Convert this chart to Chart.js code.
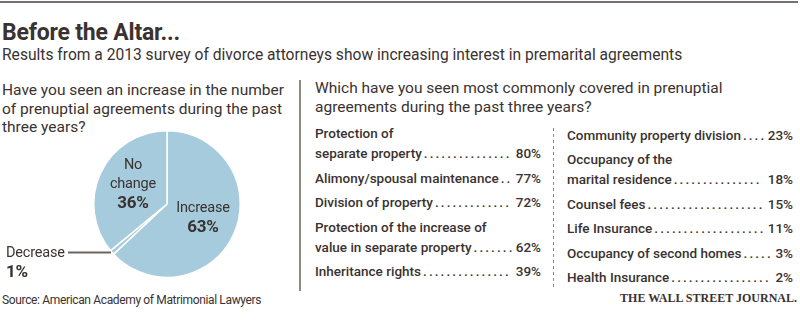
<!DOCTYPE html>
<html>
<head>
<meta charset="utf-8">
<script src="https://cdn.jsdelivr.net/npm/chart.js@4/dist/chart.umd.min.js"></script>
<style>
  html, body { margin:0; padding:0; background:#fff; }
  body { width:800px; height:328px; position:relative; overflow:hidden;
         font-family: Roboto, "Noto Sans", sans-serif; color:#3a3230; }
  .abs { position:absolute; white-space:nowrap; }
  #rule { position:absolute; left:0; top:1px; width:798px; height:2px; background:#77706c; }
  #title { left:2px; top:19px; font-size:23px; font-weight:700; line-height:28px; letter-spacing:-0.2px; }
  #subtitle { left:2px; top:46px; font-size:15.6px; line-height:18px; }
  #q1 { left:2px; top:81px; font-size:15.5px; line-height:18.7px; white-space:pre-line; }
  #q2 { left:315px; top:79px; font-size:15.5px; line-height:19px; white-space:pre-line; }
  #vdiv { position:absolute; left:299px; top:80px; width:1.5px; height:211px; background:#8f8985; }
  #ddiv { position:absolute; left:553px; top:128px; width:1px; height:162px;
          background: repeating-linear-gradient(to bottom, #8f8985 0 3px, transparent 3px 6px); }
  #pieWrap { position:absolute; left:0; top:125px; width:300px; height:160px; }
  .plab { position:absolute; text-align:center; font-size:14.5px; line-height:19px; letter-spacing:-0.2px; }
  .plab b { font-weight:700; font-size:17px; }
  #source { left:2px; top:293px; font-size:12px; line-height:15px; letter-spacing:-0.35px; }
  #wsj { right:3px; top:290px; font-family:"Liberation Serif","DejaVu Serif",serif; font-weight:700;
         font-size:12px; line-height:16px; }
  .list { position:absolute; width:226px; font-size:13.5px; font-weight:500; }
  .item { margin-bottom:4.6px; line-height:20px; }
  .item .row { display:flex; }
  .item .dots { flex:1; min-width:0; white-space:nowrap; letter-spacing:2.1px; text-align:left; padding:0 1px 0 2px; }
</style>
</head>
<body>
<div id="rule"></div>
<div id="title" class="abs">Before the Altar...</div>
<div id="subtitle" class="abs">Results from a 2013 survey of divorce attorneys show increasing interest in premarital agreements</div>
<div id="q1" class="abs">Have you seen an increase in the number
of prenuptial agreements during the past
three years?</div>
<div id="q2" class="abs">Which have you seen most commonly covered in prenuptial
agreements during the past three years?</div>
<div id="vdiv"></div>
<div id="ddiv"></div>
<div id="pieWrap"><canvas id="pie"></canvas></div>
<div id="plabNo" class="plab" style="left:103px;top:155px;width:60px;">No<br>change<br><b>36%</b></div>
<div id="plabInc" class="plab" style="left:166px;top:198px;width:74px;">Increase<br><b>63%</b></div>
<div id="plabDec" class="plab" style="left:6px;top:243px;text-align:left;">Decrease<br><b>1%</b></div>
<div id="listL" class="list" style="left:315px;top:123px;"></div>
<div id="listR" class="list" style="left:567px;top:124.5px;"></div>
<div id="source" class="abs">Source: American Academy of Matrimonial Lawyers</div>
<div id="wsj" class="abs">THE WALL STREET JOURNAL.</div>
<script>
// ---- data ----
const pieLabels = ['Increase', 'Decrease', 'No change'];
const pieValues = [63, 1, 36];

const leftItems = ['Protection of\nseparate property', 'Alimony/spousal maintenance', 'Division of property',
                   'Protection of the increase of\nvalue in separate property', 'Inheritance rights'];
const leftValues = [80, 77, 72, 62, 39];

const rightItems = ['Community property division', 'Occupancy of the\nmarital residence', 'Counsel fees',
                    'Life Insurance', 'Occupancy of second homes', 'Health Insurance'];
const rightValues = [23, 18, 15, 11, 3, 2];

// ---- list rendering (text table with dot leaders) ----
function buildList(el, items, values) {
  items.forEach((t, i) => {
    const lines = t.split('\n');
    const item = document.createElement('div'); item.className = 'item';
    lines.slice(0, -1).forEach(l => {
      const d = document.createElement('div'); d.textContent = l; item.appendChild(d);
    });
    const row = document.createElement('div'); row.className = 'row';
    const lab = document.createElement('span'); lab.textContent = lines[lines.length - 1];
    const dots = document.createElement('span'); dots.className = 'dots';
    const val = document.createElement('span'); val.textContent = values[i] + '%';
    row.append(lab, dots, val); item.appendChild(row); el.appendChild(item);
  });
}
buildList(document.getElementById('listL'), leftItems, leftValues);
buildList(document.getElementById('listR'), rightItems, rightValues);
function fillDots() {
  document.querySelectorAll('.dots').forEach(d => {
    const probe = document.createElement('span');
    probe.style.cssText = 'position:absolute;visibility:hidden;white-space:nowrap;letter-spacing:2.1px;font:inherit;';
    probe.textContent = '.'.repeat(20);
    d.parentNode.appendChild(probe);
    const adv = probe.getBoundingClientRect().width / 20;
    probe.remove();
    const w = d.clientWidth - 3;
    d.textContent = '.'.repeat(Math.max(0, Math.floor(w / adv)));
  });
}
fillDots();

// ---- pie ----
const leaderPlugin = {
  id: 'leader',
  afterDatasetsDraw(chart) {
    const arc = chart.getDatasetMeta(0).data[1];
    const mid = (arc.startAngle + arc.endAngle) / 2;
    const x = arc.x + Math.cos(mid) * arc.outerRadius;
    const y = arc.y + Math.sin(mid) * arc.outerRadius;
    const ctx = chart.ctx;
    ctx.save();
    ctx.strokeStyle = '#6d6560'; ctx.lineWidth = 2;
    ctx.beginPath(); ctx.moveTo(68, y); ctx.lineTo(x - 1, y); ctx.stroke();
    ctx.restore();
  }
};
new Chart(document.getElementById('pie'), {
  type: 'pie',
  data: { labels: pieLabels, datasets: [{ data: pieValues, backgroundColor: '#a6cbdc',
          borderColor: '#ffffff', borderWidth: 1.5 }] },
  options: {
    responsive: true, maintainAspectRatio: false, animation: false,
    layout: { padding: { left: 93, right: 59, top: 5, bottom: 7 } },
    plugins: { legend: { display: false }, tooltip: { enabled: false } }
  },
  plugins: [leaderPlugin]
});
</script>
</body>
</html>
